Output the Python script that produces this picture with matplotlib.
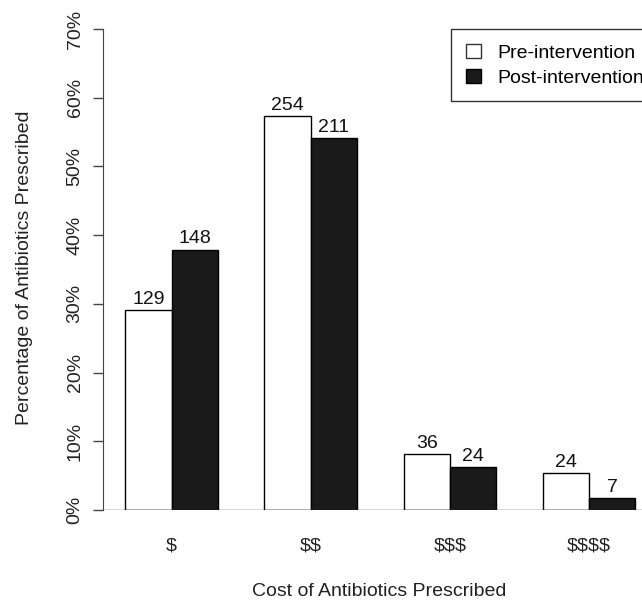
import matplotlib
matplotlib.use("Agg")
import matplotlib.pyplot as plt
from matplotlib.patches import Patch

plt.rcParams['font.family'] = ['Liberation Sans', 'DejaVu Sans']
plt.rcParams['text.parse_math'] = False

# data
categories = ['$', '$$', '$$$', '$$$$']
pre_pct = [29.1, 57.3, 8.1, 5.4]
post_pct = [37.9, 54.1, 6.2, 1.8]
pre_n = [129, 254, 36, 24]
post_n = [148, 211, 24, 7]
y_ticks = [0, 10, 20, 30, 40, 50, 60, 70]

W, H = 642, 601
FS = 14
fig = plt.figure(figsize=(W / 100, H / 100), dpi=100)
ax = fig.add_axes([103 / W, 91 / H, (W - 103) / W, 481 / H])

# R style grouped barplot: bars of width 1, one unit gap between groups
pre_x = [1.5 + 3 * i for i in range(len(categories))]
post_x = [2.5 + 3 * i for i in range(len(categories))]
ax.bar(pre_x, pre_pct, width=1, color='white', edgecolor='black', linewidth=1, zorder=3)
ax.bar(post_x, post_pct, width=1, color='#1a1a1a', edgecolor='black', linewidth=1, zorder=3)

for x, v, n in zip(pre_x, pre_pct, pre_n):
    ax.annotate(str(n), (x, v), xytext=(0, 1.5), textcoords='offset points',
                ha='center', va='bottom', fontsize=FS, color='#111')
for x, v, n in zip(post_x, post_pct, post_n):
    ax.annotate(str(n), (x, v), xytext=(0, 1.5), textcoords='offset points',
                ha='center', va='bottom', fontsize=FS, color='#111')

ax.set_xlim(0.52, (W - 78.6) / 46.4)
ax.set_ylim(0, 70)

for s in ['top', 'right', 'bottom']:
    ax.spines[s].set_visible(False)
ax.spines['left'].set_color('#444')
ax.axhline(0, color='#444', linewidth=1, zorder=4)

ax.set_yticks(y_ticks)
ax.set_yticklabels([f'{t}%' for t in y_ticks], rotation=90, va='center', fontsize=FS, color='#222')
ax.tick_params(axis='y', length=7, width=1, color='#444', pad=7)

ax.set_xticks([2 + 3 * i for i in range(len(categories))])
ax.set_xticklabels(categories, fontsize=FS, color='#222')
ax.tick_params(axis='x', length=0, pad=20)

fig.text(379 / W, 1 - 592 / H, 'Cost of Antibiotics Prescribed', ha='center', va='center',
         fontsize=FS, color='#222')
fig.text(25 / W, 1 - 268 / H, 'Percentage of Antibiotics Prescribed', ha='center', va='center',
         rotation=90, fontsize=FS, color='#222')

handles = [Patch(facecolor='white', edgecolor='#333', linewidth=1),
           Patch(facecolor='#1a1a1a', edgecolor='black', linewidth=1)]
leg = fig.legend(handles, ['Pre-intervention', 'Post-intervention'], loc='upper left',
                 bbox_to_anchor=(451 / W, 1 - 29 / H), borderaxespad=0, fontsize=FS,
                 fancybox=False, framealpha=1, edgecolor='#333', borderpad=0.75,
                 handlelength=0.8, handleheight=0.8, handletextpad=0.85, labelspacing=0.35)
leg.get_frame().set_linewidth(1)

fig.savefig('out.png', dpi=100)
